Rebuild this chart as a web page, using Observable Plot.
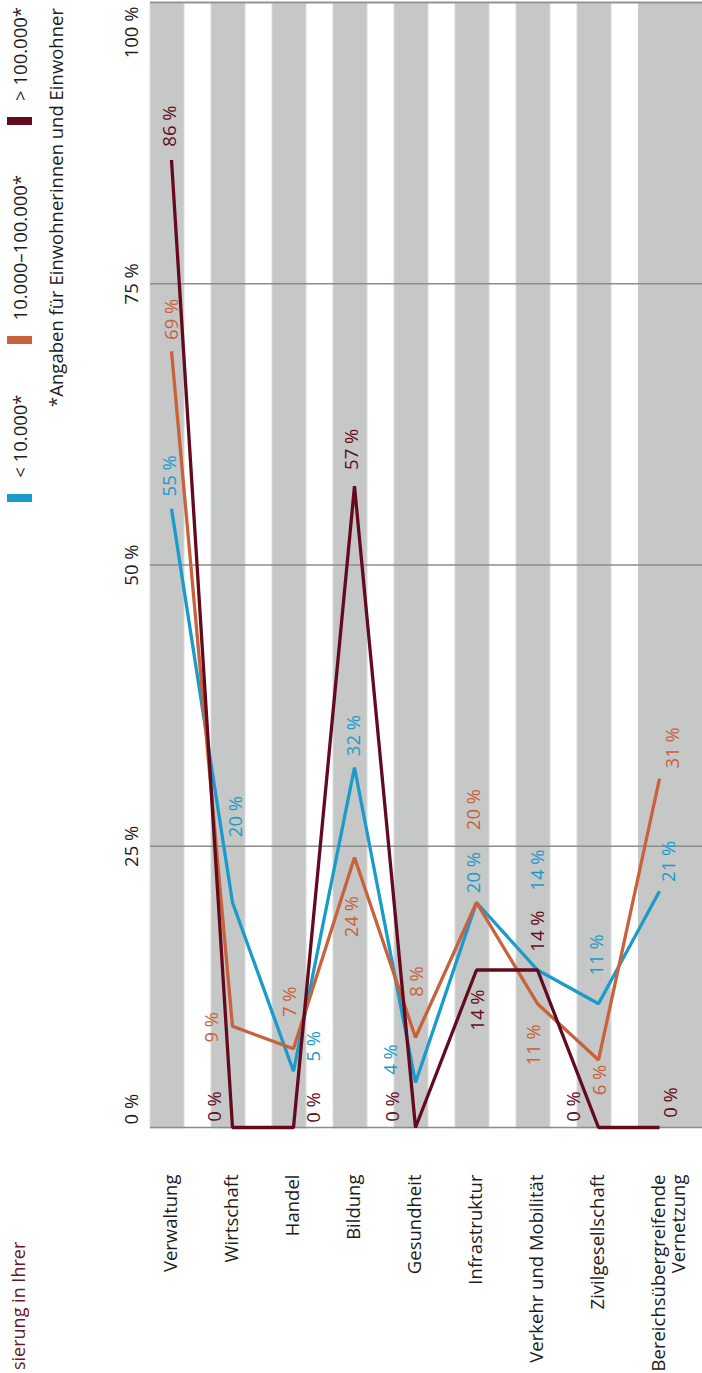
<!DOCTYPE html>
<html>
<head>
<meta charset="utf-8">
<script src="https://cdn.jsdelivr.net/npm/d3@7"></script>
<script src="https://cdn.jsdelivr.net/npm/@observablehq/plot@0.6"></script>
<style>
  html, body { margin: 0; padding: 0; background: #fff; }
  body { width: 702px; height: 1373px; overflow: hidden; position: relative; font-family: "Open Sans", sans-serif; }
  #page { position: absolute; left: 0; top: 0; width: 1373px; height: 702px;
          transform-origin: 0 0; transform: translate(0px, 1373px) rotate(-90deg); }
  #chart { position: absolute; left: 0; top: 0; }
  #legend { position: absolute; right: 7px; top: 7px; display: flex; align-items: center; gap: 50px;
            font-size: 18.5px; color: #1d1d1b; white-space: nowrap; }
  .item { display: flex; align-items: center; gap: 16px; }
  .sw { width: 8px; height: 25px; }
  #note { position: absolute; right: 8px; top: 43px; font-size: 18.5px; color: #1d1d1b; white-space: nowrap; }
  #title { position: absolute; left: 3px; top: 6px; font-size: 18px; color: #6a1628; white-space: nowrap; }
</style>
</head>
<body>
<div id="page">
  <div id="title">sierung in Ihrer</div>
  <div id="chart"></div>
  <div id="legend"></div>
  <div id="note">*Angaben für Einwohnerinnen und Einwohner</div>
</div>
<script>
// ---- data ----
const categories = ["Verwaltung", "Wirtschaft", "Handel", "Bildung", "Gesundheit", "Infrastruktur",
  "Verkehr und Mobilität", "Zivilgesellschaft", "Bereichsübergreifende\nVernetzung"];
const seriesNames = ["< 10.000*", "10.000–100.000*", "> 100.000*"];
const smallTowns = [55, 20, 5, 32, 4, 20, 14, 11, 21];
const mediumTowns = [69, 9, 7, 24, 8, 20, 11, 6, 31];
const largeTowns = [86, 0, 0, 57, 0, 14, 14, 0, 0];
const valueTicks = [0, 25, 50, 75, 100];

// ---- styling / layout ----
const colors = ["#1b9bcb", "#c8623c", "#640a1e"];
const seriesValues = [smallTowns, mediumTowns, largeTowns];
// label nudges [dx, dy] in pixels relative to each point
const labelNudge = [
  [[33, 3], [86, 7.5], [25, 25], [32, 4], [23, -20], [30, 2], [100, 4.5], [49, 3], [30, 14]],
  [[32, 5], [-1, -16.5], [47, 1], [-59, 2], [56, 6], [93, 2], [-41, 0.5], [-20, 6], [31, 18]],
  [[34, 3], [21, -13.5], [20, 25], [37, 2], [21, -18], [-40, 6], [39, 4.5], [21, -20], [25, 16]]
];

const rows = seriesValues.flatMap((vals, s) => vals.map((v, i) => ({series: seriesNames[s], s, i, cat: categories[i], v})));

const gray = "#c6c7c7";
const fs = 18.5;
const ink = "#1d1d1b";

const catText = (list, dy) => Plot.text(list, {
  y: d => d, frameAnchor: "left", dx: -47, dy, text: d => d, textAnchor: "end",
  lineAnchor: "middle", lineHeight: 1.1, fill: ink, fontSize: fs
});

const marks = [
  Plot.barX(categories.slice(0, -1), {y: d => d, x1: 0, x2: 100, fill: gray, stroke: "#d8d9d9", strokeWidth: 1}),
  Plot.barX(categories.slice(-1), {y: d => d, x1: 0, x2: 100, fill: gray, insetBottom: -40}),
  Plot.ruleX(valueTicks.slice(1, -1), {stroke: "#8c8c8c", strokeWidth: 1.3}),
  Plot.ruleX([0], {stroke: "#8c8c8c", strokeWidth: 1.6}),
  Plot.ruleX([100], {stroke: "#939393", strokeWidth: 2.2}),
  Plot.text([valueTicks[0]], {x: d => d, frameAnchor: "top", dy: -26, dx: 3, text: d => `${d} %`, textAnchor: "start", fill: ink, fontSize: fs}),
  Plot.text(valueTicks.slice(1, -1), {x: d => d, frameAnchor: "top", dy: -26, text: d => `${d} %`, textAnchor: "middle", fill: ink, fontSize: fs}),
  Plot.text(valueTicks.slice(-1), {x: d => d, frameAnchor: "top", dy: -26, dx: -4, text: d => `${d} %`, textAnchor: "end", fill: ink, fontSize: fs}),
  catText(categories.slice(0, -1), 2.5),
  catText(categories.slice(-1), 13),
  ...seriesNames.map((name, s) => Plot.line(rows.filter(d => d.s === s), {
    x: "v", y: "cat", stroke: colors[s], strokeWidth: 3.3, dy: 4,
    strokeLinejoin: "miter", strokeLinecap: "butt"
  })),
  ...rows.map(d => Plot.text([d], {
    x: "v", y: "cat", text: r => `${r.v} %`, fill: colors[d.s], fontSize: fs,
    textAnchor: "middle", lineAnchor: "middle",
    dx: labelNudge[d.s][d.i][0], dy: labelNudge[d.s][d.i][1]
  }))
];

const chart = Plot.plot({
  width: 1373,
  height: 702,
  marginLeft: 245,
  marginRight: 3,
  marginTop: 150,
  marginBottom: 0,
  style: {fontFamily: "Open Sans, sans-serif", fontSize: fs + "px", background: "transparent", overflow: "visible"},
  x: {domain: [0, 100], axis: null},
  y: {type: "band", domain: categories, paddingInner: 0.45, paddingOuter: 0.2055, align: 0, axis: null},
  marks
});
document.getElementById("chart").appendChild(chart);

// legend
const legend = document.getElementById("legend");
seriesNames.forEach((name, s) => {
  const item = document.createElement("div");
  item.className = "item";
  const sw = document.createElement("div");
  sw.className = "sw";
  sw.style.background = colors[s];
  const t = document.createElement("span");
  t.textContent = name;
  item.appendChild(sw);
  item.appendChild(t);
  legend.appendChild(item);
});
</script>
</body>
</html>
